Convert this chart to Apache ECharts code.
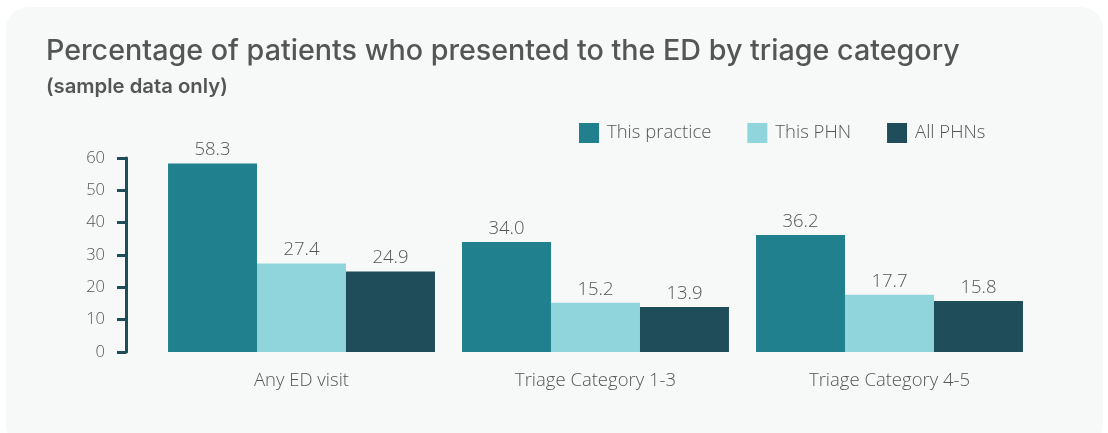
<!DOCTYPE html>
<html><head><meta charset="utf-8">
<script src="https://cdn.jsdelivr.net/npm/echarts@6/dist/echarts.min.js"></script>
<style>html,body{margin:0;padding:0;background:#fff;}#c{width:1108px;height:433px;}</style>
</head><body><div id="c"></div>
<script>
const categories = ['Any ED visit', 'Triage Category 1-3', 'Triage Category 4-5'];
const seriesNames = ['This practice', 'This PHN', 'All PHNs'];
const thisPractice = [58.3, 34.0, 36.2];
const thisPHN = [27.4, 15.2, 17.7];
const allPHNs = [24.9, 13.9, 15.8];
const colors = ['#20808d', '#8fd5db', '#1f4e5a'];
const values = [thisPractice, thisPHN, allPHNs];

const chart = echarts.init(document.getElementById('c'), null, {renderer: 'canvas'});
const labelFont = '"Open Sans", sans-serif';
chart.setOption({
  animation: false,
  backgroundColor: '#ffffff',
  graphic: [{
    type: 'rect', z: -10, silent: true,
    shape: {x: 6, y: 7, width: 1097, height: 440, r: 22},
    style: {fill: '#f7f9f9'}
  }],
  title: {
    text: 'Percentage of patients who presented to the ED by triage category',
    subtext: '(sample data only)',
    left: 41, top: 32,
    itemGap: 11,
    textStyle: {fontFamily: 'Inter, "Noto Sans", sans-serif', fontSize: 28.7, fontWeight: 500, color: '#555555'},
    subtextStyle: {fontFamily: 'Inter, "Noto Sans", sans-serif', fontSize: 20.3, fontWeight: 600, color: '#555555'}
  },
  legend: {
    data: seriesNames,
    left: 574, top: 118,
    itemWidth: 20, itemHeight: 20, itemGap: 36,
    icon: 'rect',
    textStyle: {fontFamily: labelFont, fontSize: 18.5, fontWeight: 300, color: '#555555', padding: [0, 0, 0, 3]}
  },
  grid: {left: 154.5, right: 71.5, top: 158, bottom: 81, containLabel: false},
  xAxis: {
    type: 'category', data: categories,
    axisLine: {show: false}, axisTick: {show: false},
    axisLabel: {fontFamily: labelFont, fontSize: 18.5, fontWeight: 300, color: '#555555', margin: 19}
  },
  yAxis: {
    type: 'value', min: 0, max: 60, interval: 10,
    offset: 28.5,
    axisLine: {show: true, lineStyle: {color: '#1f4e5a', width: 3}},
    axisTick: {show: true, inside: false, length: 9, lineStyle: {color: '#1f4e5a', width: 3}},
    splitLine: {show: false},
    axisLabel: {fontFamily: labelFont, fontSize: 16.5, fontWeight: 300, color: '#555555', margin: 21}
  },
  series: values.map((v, i) => ({
    name: seriesNames[i], type: 'bar', data: v,
    barGap: '0%', barCategoryGap: '9.2%',
    itemStyle: {color: colors[i]},
    label: {show: true, position: 'top', distance: 4, formatter: p => p.value.toFixed(1),
      fontFamily: labelFont, fontSize: 18.5, fontWeight: 300, color: '#555555'}
  }))
});
</script></body></html>
